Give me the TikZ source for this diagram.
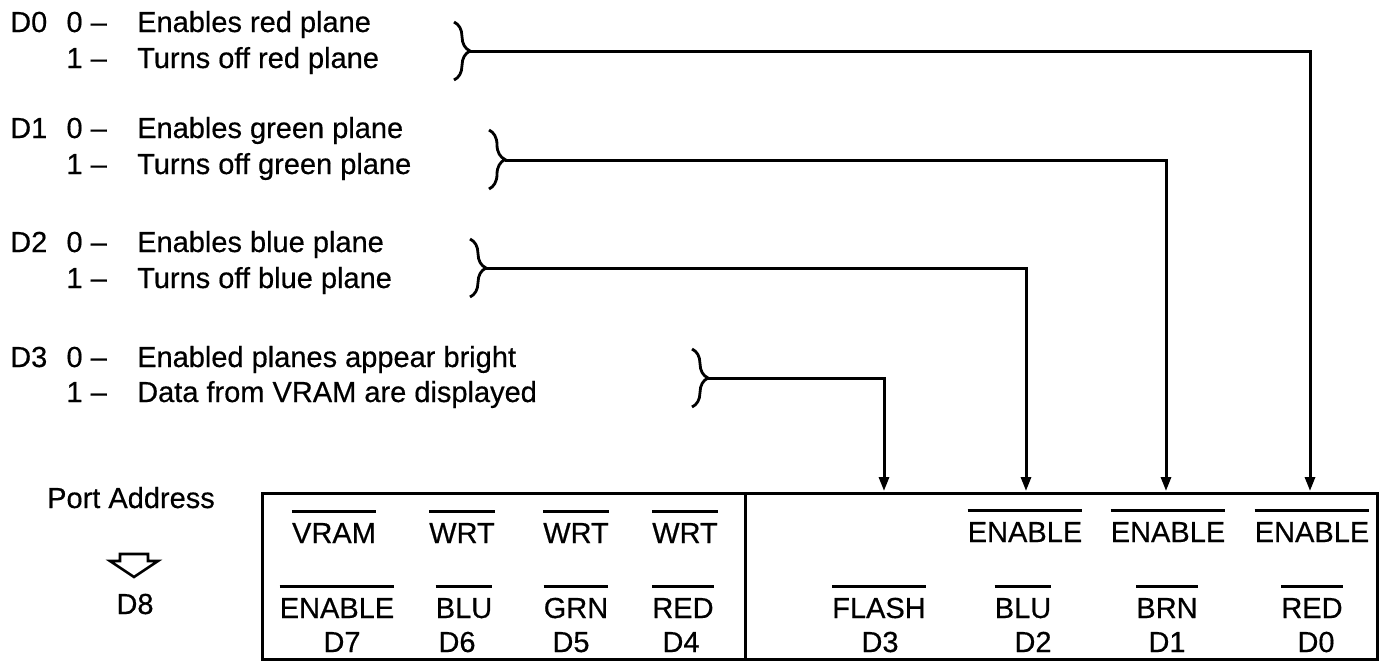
\documentclass[tikz,border=0pt]{standalone}
\usepackage{fontspec}
\setmainfont{Liberation Sans}[FakeBold=0.5]
\usetikzlibrary{arrows.meta,decorations.pathreplacing}
\begin{document}
\begin{tikzpicture}[x=1pt,y=-1pt,
  txt/.style={font=\fontsize{29}{33}\selectfont, inner sep=0pt},
  lbl/.style={txt, anchor=base west},
  num/.style={txt, anchor=base east},
  cell/.style={txt, anchor=base, text height=21pt, text depth=0pt},
  ln/.style={line width=3pt},
  bar/.style={line width=2.8pt},
  brc/.style={line width=2.8pt, decorate, decoration={brace, amplitude=16pt}},
  arr/.style={ln, -{Triangle[length=14pt,width=10pt]}},
  boxst/.style={draw, line width=3pt, inner sep=0pt, anchor=north west}]
\useasboundingbox (0,0) rectangle (1382,662);

% ---- left descriptions ----
\node[lbl] (d0) at (10,32) {D0};
\node[num] (d0a) at (107,32) {0 –};
\node[lbl] (d0t1) at (137,32) {Enables red plane};
\node[num] (d0b) at (107,68) {1 –};
\node[lbl] (d0t2) at (137,68) {Turns off red plane};

\node[lbl] (d1) at (10,138) {D1};
\node[num] (d1a) at (107,138) {0 –};
\node[lbl] (d1t1) at (137,138) {Enables green plane};
\node[num] (d1b) at (107,174) {1 –};
\node[lbl] (d1t2) at (137,174) {Turns off green plane};

\node[lbl] (d2) at (10,252) {D2};
\node[num] (d2a) at (107,252) {0 –};
\node[lbl] (d2t1) at (137,252) {Enables blue plane};
\node[num] (d2b) at (107,288) {1 –};
\node[lbl] (d2t2) at (137,288) {Turns off blue plane};

\node[lbl] (d3) at (10,367) {D3};
\node[num] (d3a) at (107,367) {0 –};
\node[lbl] (d3t1) at (137,367) {Enabled planes appear bright};
\node[num] (d3b) at (107,402) {1 –};
\node[lbl] (d3t2) at (137,402) {Data from VRAM are displayed};

% ---- braces ----
\draw[brc] (454,22) -- (454,80);
\coordinate (b0) at (470,51);
\draw[brc] (489,130) -- (489,189);
\coordinate (b1) at (505,160);
\draw[brc] (470,239) -- (470,297);
\coordinate (b2) at (486,268);
\draw[brc] (692,349) -- (692,407);
\coordinate (b3) at (708,378);

% ---- register box ----
\node[boxst, minimum width=1115pt, minimum height=166pt] (box) at (261,492) {};
\coordinate (divtop) at (745,492);
\coordinate (divbot) at (745,658);
\draw[ln] (divtop) -- (divbot);

\coordinate (t0) at (1310,491);
\coordinate (t1) at (1166,491);
\coordinate (t2) at (1026,491);
\coordinate (t3) at (884,491);

\draw[arr] (b0) -| (t0);
\draw[arr] (b1) -| (t1);
\draw[arr] (b2) -| (t2);
\draw[arr] (b3) -| (t3);

% ---- cells, row 1 ----
\node[cell] (r1a) at (334,543) {VRAM};
\node[cell] (r1b) at (462,543) {WRT};
\node[cell] (r1c) at (576,543) {WRT};
\node[cell] (r1d) at (685,543) {WRT};
\node[cell] (r1f) at (1025,542) {ENABLE};
\node[cell] (r1g) at (1168,542) {ENABLE};
\node[cell] (r1h) at (1312,542) {ENABLE};
% ---- row 2 ----
\node[cell] (r2a) at (337,618) {ENABLE};
\node[cell] (r2b) at (464,618) {BLU};
\node[cell] (r2c) at (576,618) {GRN};
\node[cell] (r2d) at (683,618) {RED};
\node[cell] (r2e) at (879,618) {FLASH};
\node[cell] (r2f) at (1023,618) {BLU};
\node[cell] (r2g) at (1167,618) {BRN};
\node[cell] (r2h) at (1312,618) {RED};
% ---- row 3 ----
\node[cell] (r3a) at (342,652) {D7};
\node[cell] (r3b) at (457,652) {D6};
\node[cell] (r3c) at (571,652) {D5};
\node[cell] (r3d) at (681,652) {D4};
\node[cell] (r3e) at (880,652) {D3};
\node[cell] (r3f) at (1033,652) {D2};
\node[cell] (r3g) at (1167,652) {D1};
\node[cell] (r3h) at (1316,652) {D0};

\foreach \n in {r1a,r1b,r1c,r1d,r1f,r1g,r1h,r2a,r2b,r2c,r2d,r2e,r2f,r2g,r2h}
  \draw[bar] ([yshift=10pt]\n.north west) -- ([yshift=10pt]\n.north east);

% ---- port address ----
\node[txt, anchor=base] (port) at (131,508) {Port Address};
\draw[line width=2.6pt, line join=miter] (120,554) -- (148,554) -- (148,561) -- (158,561)
  -- (134,577) -- (110,561) -- (120,561) -- cycle;
\node[cell] (d8) at (135,614) {D8};
\end{tikzpicture}
\end{document}
